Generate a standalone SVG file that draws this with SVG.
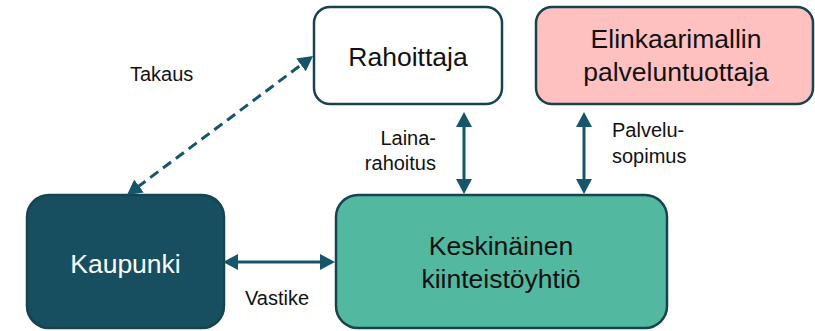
<svg xmlns="http://www.w3.org/2000/svg" width="815" height="331" viewBox="0 0 815 331">
<style>
.box{stroke:#16434f;stroke-width:2.5}
.nt{font-family:"Liberation Sans",Arial,sans-serif;font-size:26.5px;fill:#111;text-anchor:middle}
.lb{font-family:"Liberation Sans",Arial,sans-serif;font-size:20px;fill:#111}
.cn{stroke:#17566a;stroke-width:3;fill:none}
</style>
<defs>
<marker id="ah" viewBox="0 0 15 16" refX="2" refY="8" markerWidth="15" markerHeight="16" markerUnits="userSpaceOnUse" orient="auto-start-reverse">
<path d="M0,0 L15,8 L0,16 z" fill="#17566a"/>
</marker>
</defs>
<rect width="815" height="331" fill="#fff"/>
<g id="rahoittaja">
<rect class="box" x="314" y="7" width="188" height="97" rx="16" fill="#fff"/>
<text class="nt" x="408" y="66">Rahoittaja</text>
</g>
<g id="elinkaari">
<rect class="box" x="536" y="7" width="277" height="97" rx="16" fill="#ffc0c0"/>
<text class="nt" x="676" y="48">Elinkaarimallin</text>
<text class="nt" x="676" y="81">palveluntuottaja</text>
</g>
<g id="kaupunki">
<rect class="box" x="27" y="195" width="197" height="133" rx="22" fill="#174f60" stroke="#123f4c"/>
<text class="nt" x="125.5" y="273" fill="#fff" style="fill:#fff">Kaupunki</text>
</g>
<g id="kiinteisto">
<rect class="box" x="336" y="195" width="331" height="133" rx="22" fill="#52b8a0"/>
<text class="nt" x="501" y="255">Keskinäinen</text>
<text class="nt" x="501" y="288">kiinteistöyhtiö</text>
</g>
<g id="connectors">
<line class="cn" x1="137.4" y1="187.2" x2="302.6" y2="63.8" stroke-dasharray="10,6" marker-start="url(#ah)" marker-end="url(#ah)"/>
<line class="cn" x1="236" y1="262" x2="322" y2="262" marker-start="url(#ah)" marker-end="url(#ah)"/>
<line class="cn" x1="464" y1="125" x2="464" y2="181" marker-start="url(#ah)" marker-end="url(#ah)"/>
<line class="cn" x1="584" y1="125" x2="584" y2="181" marker-start="url(#ah)" marker-end="url(#ah)"/>
</g>
<g id="labels">
<text class="lb" x="130" y="81">Takaus</text>
<text class="lb" x="245" y="305">Vastike</text>
<text class="lb" x="436" y="145" text-anchor="end">Laina-</text>
<text class="lb" x="436" y="170" text-anchor="end">rahoitus</text>
<text class="lb" x="612" y="137">Palvelu-</text>
<text class="lb" x="612" y="163">sopimus</text>
</g>
</svg>
